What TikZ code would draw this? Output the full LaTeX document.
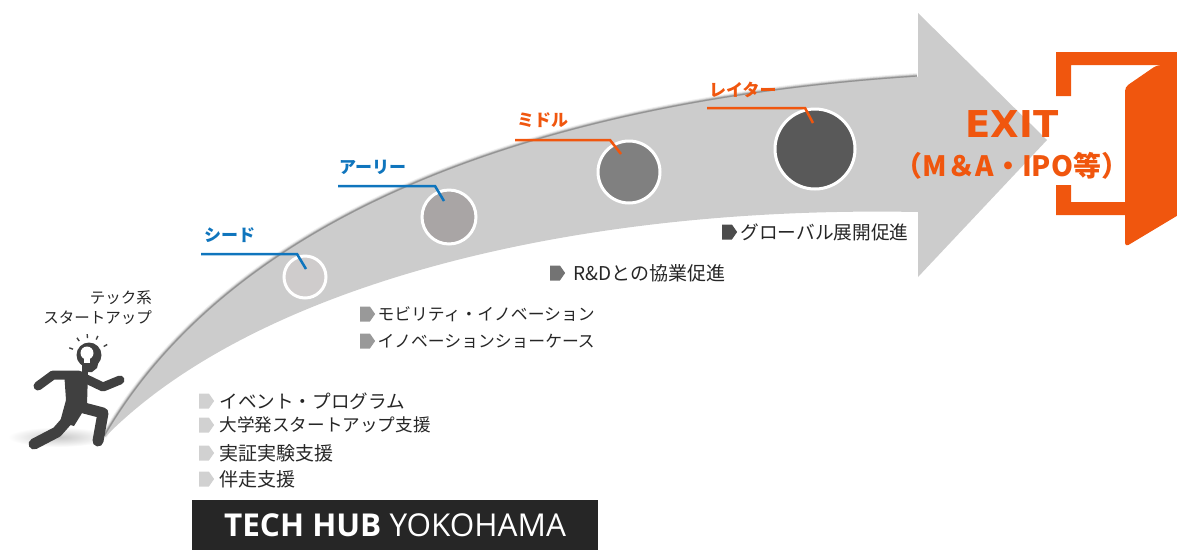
\documentclass[tikz,border=0pt]{standalone}
\usepackage{fontspec}
\setmainfont{Noto Sans CJK JP}
\newfontfamily\logofont{Open Sans}
\newfontfamily\exitfont{DejaVu Sans}
\usetikzlibrary{shapes.symbols, positioning, calc}
\definecolor{arrowgray}{HTML}{CCCCCC}
\definecolor{stageblue}{HTML}{0F75BD}
\definecolor{exitorange}{HTML}{F0560E}
\definecolor{inkgray}{HTML}{404040}
\definecolor{seedgray}{HTML}{CFCCCC}
\definecolor{earlygray}{HTML}{A9A5A5}
\def\upperedge{(105,437) .. controls (240,205) and (560,100) .. (918,77)}

\begin{document}
\begin{tikzpicture}[x=1pt,y=-1pt]
\tikzstyle{stage} = [draw=white, line width=3pt, circle, inner sep=0pt]
\tikzstyle{stagelabel} = [font=\bfseries\fontsize{17}{17}\selectfont, inner sep=0pt, anchor=west]
\tikzstyle{leader} = [line width=2.5pt]
\tikzstyle{bullet} = [signal, signal to=east, signal pointer angle=110, draw=none, inner sep=0pt, minimum width=15pt, minimum height=15pt]
\tikzstyle{item} = [text=black!85, inner sep=0pt, right = 7pt of #1]
\tikzstyle{limb} = [inkgray, line width=11pt, line cap=round, line join=round]

\useasboundingbox (0,0) rectangle (1177,550);

%floor shadow
\shade[inner color=black!22, outer color=white] (58,437) ellipse [x radius=50, y radius=10];

%big arrow
\foreach \w/\o in {6/0.06, 4/0.1, 2.5/0.15, 1.2/0.2}
  \draw[black, opacity=\o, line width=\w pt] [shift={(-1,-1)}] \upperedge;
\fill[arrowgray] \upperedge
  -- (918,13) -- (1047,140) -- (918,277) -- (918,212)
  .. controls (560,205) and (250,290) .. cycle;

%stages
\node (seed)[stage, fill=seedgray, minimum size=42pt] at (305,277) {};
\node (early)[stage, fill=earlygray, minimum size=54pt] at (449,217) {};
\node (middle)[stage, fill=black!50, minimum size=62pt] at (629,172) {};
\node (later)[stage, fill=black!65, minimum size=80pt] at (815,149) {};

\node (seedlabel)[stagelabel, text=stageblue] at (204,235) {シード};
\node (earlylabel)[stagelabel, text=stageblue] at (339,167) {アーリー};
\node (middlelabel)[stagelabel, text=exitorange] at (517,120) {ミドル};
\node (laterlabel)[stagelabel, text=exitorange] at (709,90) {レイター};

\coordinate (seedend) at (201,254);
\coordinate (seedbend) at (297,254);
\coordinate (seedin) at (306,269);
\coordinate (earlyend) at (338,186);
\coordinate (earlybend) at (435,186);
\coordinate (earlyin) at (444,201);
\coordinate (middleend) at (515,140);
\coordinate (middlebend) at (610,140);
\coordinate (middlein) at (621,154);
\coordinate (laterend) at (707,108);
\coordinate (laterbend) at (805,108);
\coordinate (laterin) at (813,123);
\draw[leader, stageblue] (seedend) -- (seedbend) -- (seedin);
\draw[leader, stageblue] (earlyend) -- (earlybend) -- (earlyin);
\draw[leader, exitorange] (middleend) -- (middlebend) -- (middlein);
\draw[leader, exitorange] (laterend) -- (laterbend) -- (laterin);

%seed list
\node (b1)[bullet, fill=black!18] at (204,401) {};
\node (b2)[bullet, fill=black!18, below of = b1, node distance = 24pt] {};
\node (b3)[bullet, fill=black!18, below of = b2, node distance = 28pt] {};
\node (b4)[bullet, fill=black!18, below of = b3, node distance = 26pt] {};
\node (t1)[item=b1, right = 5pt of b1, font=\fontsize{18.6}{18}\selectfont] {イベント・プログラム};
\node (t2)[item=b2, right = 5pt of b2, font=\fontsize{17.6}{18}\selectfont] {大学発スタートアップ支援};
\node (t3)[item=b3, right = 5pt of b3, font=\fontsize{19}{18}\selectfont] {実証実験支援};
\node (t4)[item=b4, right = 5pt of b4, font=\fontsize{19}{18}\selectfont] {伴走支援};

%early list
\node (b5)[bullet, fill=black!40] at (365,314) {};
\node (b6)[bullet, fill=black!40, below of = b5, node distance = 27pt] {};
\node (t5)[item=b5, right = 2pt of b5, font=\fontsize{16.8}{18}\selectfont] {モビリティ・イノベーション};
\node (t6)[item=b6, right = 2pt of b6, font=\fontsize{16.8}{18}\selectfont] {イノベーションショーケース};

%middle, later
\node (b7)[bullet, fill=black!55] at (555,273) {};
\node (t7)[item=b7, right = 8pt of b7, font=\fontsize{19}{18}\selectfont] {R\&Dとの協業促進};
\node (b8)[bullet, fill=black!70] at (727,232) {};
\node (t8)[item=b8, right = 3pt of b8, font=\fontsize{18.7}{18}\selectfont] {グローバル展開促進};

%runner
\node (startup)[align=right, font=\fontsize{15.5}{20}\selectfont, text=black!85, inner sep=0pt, anchor=east] at (152,308) {テック系\\スタートアップ};
\coordinate (head) at (89,355);
\fill[inkgray] (head) circle (12.5);
\fill[inkgray] (82,360) -- (99,360) -- (97,368) -- (92,372) -- (82,372) -- cycle;
\fill[white] (87,353) circle (6.5);
\fill[white] (84,356) rectangle (90,363);
\foreach \a in {-160,-125,-95,-65,-30}
  \draw[inkgray, line width=1.4pt] ($(head)+(\a:17)$) -- ($(head)+(\a:21)$);
\draw[limb, line width=9pt] (38,386) -- (53,375) -- (78,375) -- (103,387) -- (120,380);
\fill[inkgray] (64,371) -- (88,372) -- (87,405) -- (74,426) -- (60,422) -- (66,400) -- cycle;
\draw[limb] (84,408) -- (103,413) -- (98,441);
\draw[limb] (72,415) -- (57,432) -- (34,444);

%logo
\node (logo)[fill=black!85, text=white, minimum width=406pt, minimum height=50pt, inner sep=0pt, font=\logofont\fontsize{31.5}{31}\selectfont] at (395,525) {\raisebox{-2.5pt}{\textbf{TECH HUB} YOKOHAMA}};

%door
\fill[exitorange] (1056,52) -- (1177,52) -- (1177,65) -- (1071,65) -- (1071,96) -- (1056,96) -- cycle;
\fill[exitorange] (1056,185) -- (1071,185) -- (1071,202) -- (1125,202) -- (1125,215) -- (1056,215) -- cycle;
\fill[exitorange, rounded corners=4pt] (1157,65) -- (1125,87) -- (1125,247) -- (1190,208) -- (1190,65) -- cycle;
\node (exit)[text=exitorange, font=\exitfont\bfseries\fontsize{37}{37}\selectfont, inner sep=0pt] at (1012,124) {EXIT};
\node (exitsub)[text=exitorange, font=\bfseries\fontsize{28}{28}\selectfont, inner sep=0pt] at (1012,166) {（M＆A・IPO等）};
\end{tikzpicture}
\end{document}
